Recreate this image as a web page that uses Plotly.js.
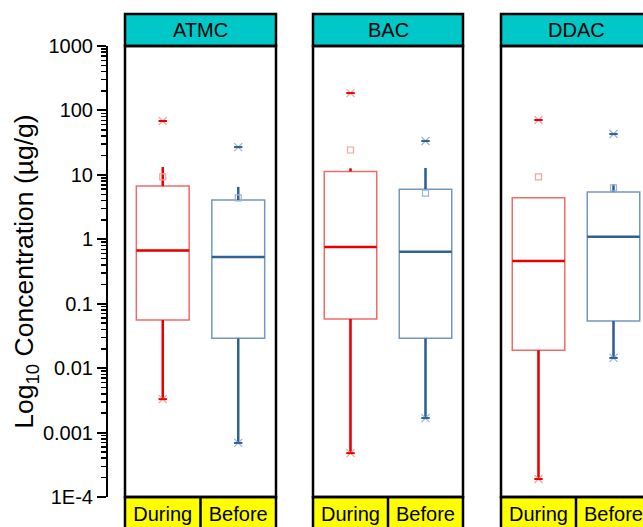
<!DOCTYPE html>
<html>
<head>
<meta charset="utf-8">
<script src="https://cdn.plot.ly/plotly-3.0.1.min.js"></script>
<style>
html,body{margin:0;padding:0;overflow:hidden;background:#fff;}
#chart{width:655px;height:527px;}
</style>
</head>
<body>
<div id="chart"></div>
<script>
// ---- data ----
var panels = ['ATMC', 'BAC', 'DDAC'];
var categories = ['During', 'Before'];
var yTickVals = [1e-4, 1e-3, 1e-2, 1e-1, 1, 10, 100, 1000];
var yTickText = ['1E-4', '0.001', '0.01', '0.1', '1', '10', '100', '1000'];

var q1During     = [0.056, 0.058, 0.019];
var medianDuring = [0.67, 0.76, 0.46];
var q3During     = [6.7, 11.3, 4.4];
var lowDuring    = [0.0033, 0.00048, 0.00019];
var highDuring   = [13.2, 12.6, 4.4];
var meanDuring   = [9.3, 24.3, 9.3];
var maxDuring    = [68.5, 186, 71];
var minDuring    = [0.0033, 0.00048, 0.00019];

var q1Before     = [0.029, 0.029, 0.054];
var medianBefore = [0.53, 0.64, 1.09];
var q3Before     = [4.07, 6.0, 5.4];
var lowBefore    = [0.00069, 0.00168, 0.0144];
var highBefore   = [6.5, 12.8, 7.1];
var meanBefore   = [4.4, 5.2, 6.3];
var maxBefore    = [27, 33.5, 43];
var minBefore    = [0.00069, 0.00168, 0.0144];

// ---- styling ----
var W = 655, H = 527;
var styles = [
  {dark: 'rgb(232,0,0)', light: 'rgb(242,105,105)', marker: 'rgb(248,160,160)'},
  {dark: 'rgb(48,96,150)', light: 'rgb(115,152,192)', marker: 'rgb(150,180,214)'}
];
var domains = [[125 / W, 276 / W], [313 / W, 463 / W], [501 / W, 651 / W]];
var halfW = 0.35;

var series = [
  {q1: q1During, med: medianDuring, q3: q3During, lo: lowDuring, hi: highDuring, mean: meanDuring, mx: maxDuring, mn: minDuring},
  {q1: q1Before, med: medianBefore, q3: q3Before, lo: lowBefore, hi: highBefore, mean: meanBefore, mx: maxBefore, mn: minBefore}
];

var traces = [];
var shapes = [];
var annotations = [];
var layout = {
  width: W, height: H,
  margin: {l: 0, r: 0, t: 46, b: 30},
  paper_bgcolor: 'white',
  plot_bgcolor: 'rgba(0,0,0,0)',
  showlegend: false,
  font: {family: 'Liberation Sans, Arial, sans-serif', color: 'black'},
  yaxis: {
    type: 'log', range: [-4, 3],
    anchor: 'free', position: 107 / W, side: 'left',
    showline: true, linecolor: 'black', linewidth: 2,
    ticks: 'outside', ticklen: 9, tickwidth: 2, tickcolor: 'black',
    tickvals: yTickVals, ticktext: yTickText,
    tickfont: {size: 20, color: 'black'},
    minor: {ticks: 'outside', ticklen: 5, tickwidth: 1.5, tickcolor: 'black', dtick: 'D1'},
    showgrid: false, zeroline: false,
    title: {text: 'Log<sub>10</sub> Concentration (µg/g)', font: {size: 26.5, color: 'black'}, standoff: 0}
  }
};

var yTop = (497 - 14) / 451, yBot = (497 - 540) / 451;

panels.forEach(function (name, i) {
  var xa = i === 0 ? 'x' : 'x' + (i + 1);
  var axKey = i === 0 ? 'xaxis' : 'xaxis' + (i + 1);
  layout[axKey] = {
    domain: domains[i], range: [-0.5, 1.5], anchor: 'y',
    showline: false, showgrid: false, zeroline: false, ticks: '',
    tickvals: [0, 1], ticktext: categories, ticklabelstandoff: 3,
    tickfont: {size: 20, color: 'black'}, fixedrange: true
  };
  series.forEach(function (s, g) {
    var st = styles[g];
    traces.push({
      type: 'box', xaxis: xa, yaxis: 'y', x: [g],
      q1: [s.q1[i]], median: [s.med[i]], q3: [s.q3[i]],
      lowerfence: [s.lo[i]], upperfence: [s.hi[i]],
      width: halfW * 2, whiskerwidth: 0, boxpoints: false,
      line: {color: st.light, width: 1.5}, fillcolor: 'rgba(0,0,0,0)', hoverinfo: 'skip'
    });
    traces.push({
      type: 'scatter', mode: 'lines', xaxis: xa, yaxis: 'y',
      x: [g, g, null, g, g, null, g - halfW, g + halfW],
      y: [s.q1[i], s.lo[i], null, s.q3[i], s.hi[i], null, s.med[i], s.med[i]],
      line: {color: st.dark, width: 2.5}, hoverinfo: 'skip'
    });
    traces.push({
      type: 'scatter', mode: 'markers', xaxis: xa, yaxis: 'y',
      x: [g], y: [s.mean[i]],
      marker: {symbol: 'square-open', size: 6, color: st.marker, line: {width: 1.2}}, hoverinfo: 'skip'
    });
    traces.push({
      type: 'scatter', mode: 'markers', xaxis: xa, yaxis: 'y',
      x: [g, g], y: [s.mx[i], s.mn[i]],
      marker: {symbol: 'x-thin-open', size: 8, color: st.marker, line: {width: 1.2, color: st.marker}}, hoverinfo: 'skip'
    });
    traces.push({
      type: 'scatter', mode: 'markers', xaxis: xa, yaxis: 'y',
      x: [g, g], y: [s.mx[i], s.mn[i]],
      marker: {symbol: 'line-ew-open', size: 6, color: st.dark, line: {width: 2, color: st.dark}}, hoverinfo: 'skip'
    });
  });
  var dref = xa + ' domain';
  shapes.push({type: 'rect', xref: dref, yref: 'paper', x0: 0, x1: 1, y0: yBot, y1: 0,
    fillcolor: 'rgb(255,255,0)', line: {color: 'black', width: 2.5}, layer: 'below'});
  shapes.push({type: 'line', xref: xa, yref: 'paper', x0: 0.5, x1: 0.5, y0: yBot, y1: 0,
    line: {color: 'black', width: 2.5}, layer: 'below'});
  shapes.push({type: 'rect', xref: dref, yref: 'paper', x0: 0, x1: 1, y0: 1, y1: yTop,
    fillcolor: 'rgb(0,200,200)', line: {color: 'black', width: 2.5}, layer: 'above'});
  shapes.push({type: 'rect', xref: dref, yref: 'paper', x0: 0, x1: 1, y0: 0, y1: 1,
    line: {color: 'black', width: 2.5}, layer: 'above'});
  annotations.push({xref: dref, yref: 'paper', x: 0.5, y: (497 - 30) / 451,
    text: name, showarrow: false, xanchor: 'center', yanchor: 'middle',
    font: {size: 20, color: 'black'}});
});

layout.shapes = shapes;
layout.annotations = annotations;

Plotly.newPlot('chart', traces, layout, {displayModeBar: false, staticPlot: true});
</script>
</body>
</html>
